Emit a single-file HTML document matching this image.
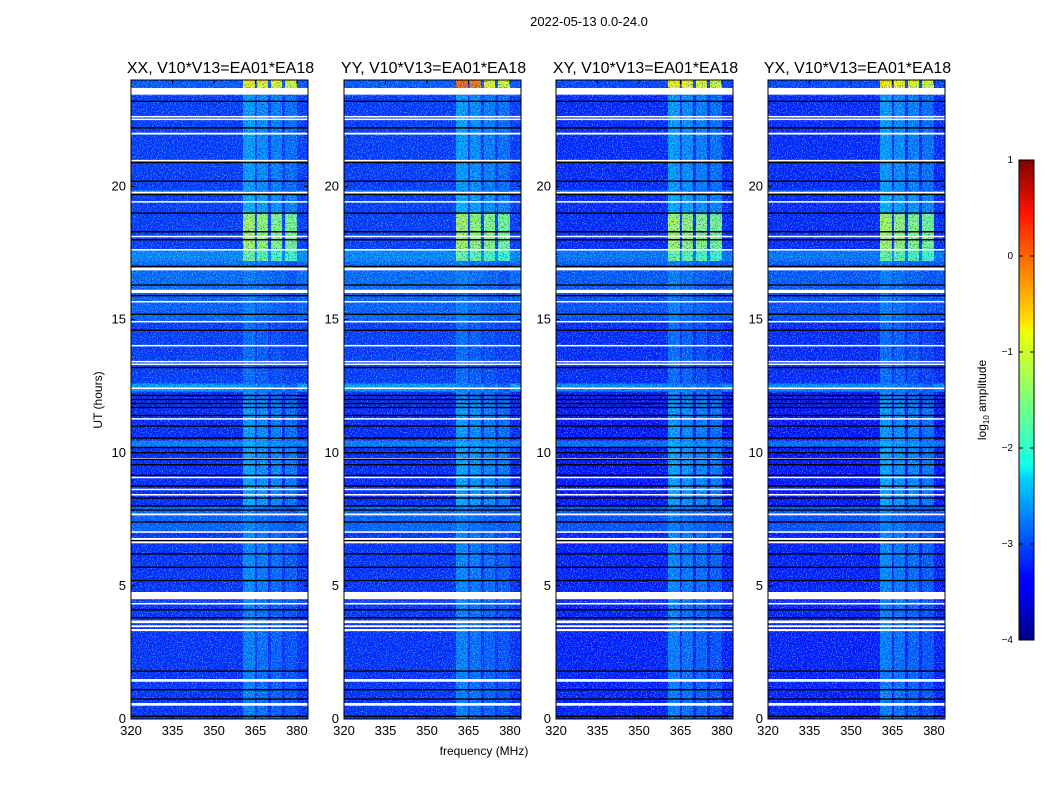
<!DOCTYPE html>
<html><head><meta charset="utf-8"><style>
body{margin:0;background:#fff;}
svg{display:block;font-family:"Liberation Sans","DejaVu Sans",sans-serif;}
</style></head><body>
<svg id="fig" width="1050" height="800" viewBox="0 0 1050 800">
<defs>
<filter id="speck" x="0" y="0" width="100%" height="100%">
<feTurbulence type="fractalNoise" baseFrequency="0.8 0.8" numOctaves="2" seed="3"/>
<feColorMatrix type="matrix" values="0 0 0 0 0.2  0 0 0 0 0.85  0 0 0 0 1  4.5 0 0 0 -2.3"/>
</filter>
<filter id="dark" x="0" y="0" width="100%" height="100%">
<feTurbulence type="fractalNoise" baseFrequency="0.85 0.7" numOctaves="2" seed="11"/>
<feColorMatrix type="matrix" values="0 0 0 0 0  0 0 0 0 0  0 0 0 0 0.45  4.5 0 0 0 -2.4"/>
</filter>
<linearGradient id="jetgrad" x1="0" y1="1" x2="0" y2="0">
<stop offset="0" stop-color="#000080"/><stop offset="0.11" stop-color="#0000ff"/>
<stop offset="0.125" stop-color="#0000ff"/><stop offset="0.34" stop-color="#00d4ff"/>
<stop offset="0.36" stop-color="#0dffea"/><stop offset="0.5" stop-color="#7dff7a"/>
<stop offset="0.64" stop-color="#f0ff06"/><stop offset="0.66" stop-color="#ffe600"/>
<stop offset="0.89" stop-color="#ff1300"/><stop offset="1" stop-color="#800000"/>
</linearGradient>
</defs>
<text x="589" y="26" font-size="13" text-anchor="middle">2022-05-13 0.0-24.0</text>
<text x="484" y="755" font-size="12" text-anchor="middle">frequency (MHz)</text>
<text transform="translate(102,400) rotate(-90)" font-size="12" text-anchor="middle">UT (hours)</text>
<g id="panels"></g>
<g id="cbar">
<rect x="1019" y="160" width="15" height="480" fill="url(#jetgrad)" stroke="#000" stroke-width="1"/>
<text transform="translate(986,400) rotate(-90)" font-size="12" text-anchor="middle">log<tspan font-size="8" dy="3">10</tspan><tspan dy="-3"> amplitude</tspan></text>
</g>
</svg>
<script>
// ---- data ----
const panelTitles = ["XX, V10*V13=EA01*EA18","YY, V10*V13=EA01*EA18","XY, V10*V13=EA01*EA18","YX, V10*V13=EA01*EA18"];
const panelLeft = [131,344,556,768];
const xTicks = [320,335,350,365,380];
const yTicks = [0,5,10,15,20];
const cbTicks = [1,0,-1,-2,-3,-4];
const cbTickLabels = ["1","0","\u22121","\u22122","\u22123","\u22124"];
// time segments (hours) with background and channel log-amplitude
const segStart = [0,4.4,7.0,8.0,10.2,10.45,12.0,12.3,12.6,14.9,16.0,17.2,17.6,19.0,19.7,19.85,23.4,23.7];
const segEnd   = [4.4,7.0,8.0,10.2,10.45,12.0,12.3,12.6,14.9,16.0,17.2,17.6,19.0,19.7,19.85,23.4,23.7,24.0];
const bgLevel  = [-3.15,-3.15,-2.9,-3.2,-2.75,-3.2,-3.2,-2.6,-3.1,-2.9,-2.85,-2.7,-3.1,-3.1,-2.6,-3.1,-3.0,-2.95];
const chLevel  = [-2.75,-2.7,-2.75,-2.55,-2.5,-2.6,-2.7,-2.7,-2.85,-2.75,-2.75,-1.6,-1.3,-2.5,-2.6,-2.6,-2.7,-0.8];
// cross-pol panels have weaker broadband rows
const panelBgShift = [0,0,-0.1,-0.1];
// bright RFI channel bands (MHz)
const chanStart = [360.5,365.5,370.6,375.7];
const chanEnd   = [364.8,369.5,374.6,380.0];
// flagged (white) intervals in hours
const flagStart = [0.5,1.4,3.3,3.45,3.6,4.3,4.5,6.6,7.0,7.65,8.4,8.6,9.05,9.75,11.25,12.4,13.3,13.4,14.0,14.9,15.65,16.0,16.85,17.6,18.1,19.4,19.75,20.95,21.95,22.5,22.6,23.45];
const flagEnd   = [0.6,1.5,3.38,3.52,3.7,4.36,4.77,6.8,7.05,7.72,8.45,8.65,9.1,9.8,11.3,12.45,13.35,13.45,14.05,14.95,15.7,16.12,16.95,17.65,18.15,19.45,19.8,21.0,22.02,22.55,22.65,23.7];
// black (zeroed) rows in hours
const blackHours = [0.1,0.75,1.1,1.8,3.8,4.1,5.2,5.7,6.2,6.7,7.4,7.85,8.0,8.3,8.75,9.15,9.55,9.75,10.0,10.2,10.55,11.0,11.4,11.7,11.85,12.0,12.15,13.2,14.6,15.2,15.9,16.3,17.0,18.0,18.3,19.0,19.7,20.2,20.9,22.2,23.2];
const fmin = 320, fmax = 384, hmin = 0, hmax = 24;
const yTop = 80, yBottom = 719, pw = 177;

function jet(v){ // v in [-4,1]
  let t = Math.max(0, Math.min(1, (v + 4) / 5));
  const f = x => Math.max(0, Math.min(1, x));
  const r = f(1.5 - Math.abs(4*t - 3)), g = f(1.5 - Math.abs(4*t - 2)), b = f(1.5 - Math.abs(4*t - 1));
  return `rgb(${Math.round(r*255)},${Math.round(g*255)},${Math.round(b*255)})`;
}
const NS = "http://www.w3.org/2000/svg";
function mk(tag, attrs, parent){ const e = document.createElementNS(NS, tag); for (const k in attrs) e.setAttribute(k, attrs[k]); parent.appendChild(e); return e; }
const yScale = h => yBottom - (h - hmin) / (hmax - hmin) * (yBottom - yTop);

const root = document.getElementById('panels');
panelTitles.forEach((title, p) => {
  const x0 = panelLeft[p];
  const xScale = f => x0 + (f - fmin) / (fmax - fmin) * pw;
  const g = mk('g', {}, root);
  
  
  for (let i = 0; i < segStart.length; i++) {
    const y1 = yScale(segEnd[i]), y2 = yScale(segStart[i]);
    const r = mk('rect', {x: x0, y: y1, width: pw, height: y2 - y1, fill: jet(bgLevel[i] + panelBgShift[p])}, g);
    
    
    for (let c = 0; c < chanStart.length; c++) {
      const cx1 = xScale(chanStart[c]), cx2 = xScale(chanEnd[c]);
      const lvl = chLevel[i] + (p === 1 && i === segStart.length-1 && c < 2 ? 0.7 : 0) - c*0.08;
      const cr = mk('rect', {x: cx1, y: y1, width: cx2 - cx1, height: y2 - y1, fill: jet(lvl)}, g);
      
      
    }
  }
  mk('rect', {x: x0, y: yTop, width: pw, height: yBottom - yTop, filter: 'url(#speck)', opacity: 0.6}, g);
  mk('rect', {x: x0, y: yTop, width: pw, height: yBottom - yTop, filter: 'url(#dark)', opacity: 0.6}, g);
  for (let i = 0; i < flagStart.length; i++) {
    const y1 = yScale(flagEnd[i]), y2 = yScale(flagStart[i]);
    const fr = mk('rect', {x: x0, y: y1, width: pw, height: Math.max(1.5, y2 - y1), fill: '#fff'}, g);
    
    
  }
  blackHours.forEach(h => {
    const y = yScale(h);
    const bl = mk('rect', {x: x0, y: y - 0.7, width: pw, height: 1.4, fill: '#000'}, g);
    
    
  });
  mk('rect', {x: x0, y: yTop, width: pw, height: yBottom - yTop, fill: 'none', stroke: '#000', 'stroke-width': 1}, g);
  const t = mk('text', {x: x0 + pw/2 + 1, y: 73, 'font-size': 16, 'text-anchor': 'middle'}, g);
  t.textContent = title;
  
  
  xTicks.forEach(f => {
    const x = xScale(f);
    mk('line', {x1: x, x2: x, y1: yBottom, y2: yBottom - 4, stroke: '#000'}, g);
    mk('line', {x1: x, x2: x, y1: yTop, y2: yTop + 4, stroke: '#000'}, g);
    const l = mk('text', {x: x, y: yBottom + 16, 'font-size': 13, 'text-anchor': 'middle'}, g);
    l.textContent = f;
    
    
  });
  yTicks.forEach(h => {
    const y = yScale(h);
    mk('line', {x1: x0, x2: x0 + 4, y1: y, y2: y, stroke: '#000'}, g);
    mk('line', {x1: x0 + pw, x2: x0 + pw - 4, y1: y, y2: y, stroke: '#000'}, g);
    const l = mk('text', {x: x0 - 5, y: y + 4, 'font-size': 13, 'text-anchor': 'end'}, g);
    l.textContent = h;
    
    
  });
});
const cb = document.getElementById('cbar');
cbTicks.forEach((v, i) => {
  const y = 640 - (v + 4) / 5 * 480;
  mk('line', {x1: 1034, x2: 1030, y1: y, y2: y, stroke: '#000'}, cb);
  mk('line', {x1: 1019, x2: 1023, y1: y, y2: y, stroke: '#000'}, cb);
  const l = mk('text', {x: 1013, y: y + 3, 'font-size': 10, 'text-anchor': 'end'}, cb);
  l.textContent = cbTickLabels[i];
  
  
});
</script>
</body></html>
